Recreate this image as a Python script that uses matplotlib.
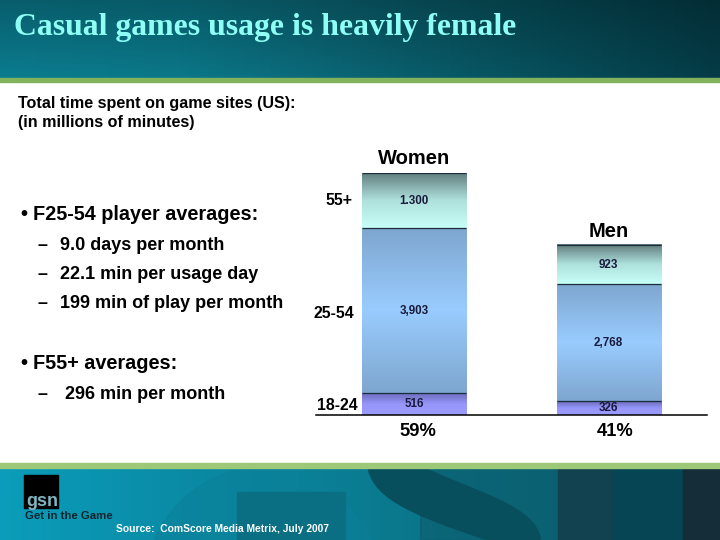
import numpy as np
import matplotlib
matplotlib.use('Agg')
import matplotlib.pyplot as plt
from matplotlib.colors import LinearSegmentedColormap as LSC
from matplotlib.patches import Rectangle, Ellipse, PathPatch
from matplotlib.path import Path

# ---- data
groups = ['Women', 'Men']
shares = ['59%', '41%']
age_labels = ['18-24', '25-54', '55+']
age_18_24 = [516, 326]
age_25_54 = [3903, 2768]
age_55_plus = [1300, 923]
value_text = [['516', '326'], ['3,903', '2,768'], ['1.300', '923']]
bullets = [
    ('\u2022', 'F25-54 player averages:'),
    ('\u2013', '9.0 days per month'),
    ('\u2013', '22.1 min per usage day'),
    ('\u2013', '199 min of play per month'),
    ('\u2022', 'F55+ averages:'),
    ('\u2013', ' 296 min per month'),
]

W, H = 720, 540
plt.rcParams['font.family'] = ['Liberation Sans', 'DejaVu Sans']
fig = plt.figure(figsize=(7.2, 5.4), dpi=100, facecolor='white')

# ---- slide background (pixel coordinates, y down)
bg = fig.add_axes([0, 0, 1, 1], zorder=0)
bg.set_xlim(0, W); bg.set_ylim(H, 0); bg.axis('off')

head = LSC.from_list('h', ['#0b7d90', '#0b7889', '#0b6473', '#07505c', '#053c47'])
grad = np.linspace(0, 1, 256)[None, :]
bg.imshow(grad, cmap=head, extent=(0, W, 78, 0), aspect='auto', zorder=1)
v = np.linspace(0, 1, 80)[:, None]
bg.imshow(np.dstack([np.zeros((80, 1))]*3 + [0.25*(1-v)]), extent=(0, W, 78, 0), aspect='auto', zorder=2)
bg.add_patch(Rectangle((0, 78), W, 3.5, color='#82b35c', zorder=3))

foot = LSC.from_list('f', ['#0b9dbb', '#0a8ba6', '#0a7c92', '#0a6b7d', '#0a5c6c'])
bg.imshow(grad, cmap=foot, extent=(0, W, H, 466), aspect='auto', zorder=1)
# GSN watermark in the footer
ring = Ellipse((262, 590), 236, 245, color='#0b8099', alpha=0.5, zorder=2)
bg.add_patch(ring)
bg.add_patch(Rectangle((237, 492), 108, 48, color='#0a6f83', zorder=2.1))
bg.add_patch(Rectangle((420, 466), 140, 74, color='#0a5a6a', alpha=0.55, zorder=2.05))
s_verts = [(367, 466), (372, 495), (400, 512), (486, 540), (541, 540), (538, 505), (470, 490), (422, 466), (367, 466)]
s_codes = [Path.MOVETO, Path.CURVE4, Path.CURVE4, Path.CURVE4, Path.LINETO,
           Path.CURVE4, Path.CURVE4, Path.CURVE4, Path.CLOSEPOLY]
bg.add_patch(PathPatch(Path(s_verts, s_codes), color='#084f5e', lw=0, zorder=2.2))
bg.add_patch(Rectangle((558, 466), 55, 74, color='#12414f', zorder=2.2))
bg.add_patch(Rectangle((613, 466), 70, 74, color='#064554', zorder=2.2))
bg.add_patch(Rectangle((683, 466), 37, 74, color='#142d39', zorder=2.2))
bg.add_patch(Rectangle((0, 463), W, 4.5, color='#9cc878', zorder=3))
# logo
bg.add_patch(Rectangle((24, 475), 34, 33, color='black', zorder=4))

def T(x, y, s, size, color='black', weight='bold', ha='left', va='baseline', family=None):
    fig.text(x / W, 1 - y / H, s, fontsize=size, color=color, fontweight=weight,
             ha=ha, va=va, family=family or ['Liberation Sans', 'DejaVu Sans'], zorder=10)

T(14, 35, 'Casual games usage is heavily female', 22.9, '#8ffff5', family=['Liberation Serif'])
T(18, 108, 'Total time spent on game sites (US):', 11.6)
T(18, 127, '(in millions of minutes)', 11.6)

ys = [220, 250, 279, 308, 369, 399]
for (mark, text), y in zip(bullets, ys):
    if mark == '\u2022':
        T(20, y, mark, 14.5)
        T(33, y, text, 14.3)
    else:
        T(37, y, mark, 13)
        T(60, y, text, 13)

T(26, 506, 'gsn', 13, '#7fb4c0')
T(25, 519, 'Get in the Game', 8.2, '#10242c')
T(116, 532, 'Source:  ComScore Media Metrix, July 2007', 7.4, 'white')

# ---- chart
ax = fig.add_axes([316 / W, 1 - 415 / H, (707 - 316) / W, (415 - 173) / H], zorder=5)
ax.patch.set_alpha(0)
x = np.arange(len(groups))
bar_w = 0.535
for s in ['top', 'left', 'right']:
    ax.spines[s].set_visible(False)
ax.spines['bottom'].set_color('black'); ax.spines['bottom'].set_linewidth(1.1)
ax.set_xticks([]); ax.set_yticks([])

cmaps = [LSC.from_list('a', ['#9a9aff', '#9696fb', '#6c6cbb']),
         LSC.from_list('b', ['#7ea6cf', '#99ccff', '#7ea6cf']),
         LSC.from_list('c', ['#c8fff8', '#aee0dc', '#5f7c7c'])]
ramp = np.linspace(0, 1, 128)[:, None]
series = [age_18_24, age_25_54, age_55_plus]
bottoms = np.zeros(2)
for vals, cm, txt in zip(series, cmaps, value_text):
    vals = np.array(vals, float)
    bars = ax.bar(x, vals, bar_w, bottom=bottoms, facecolor='none', edgecolor='none', zorder=3)
    for b, t in zip(bars, txt):
        xx, yy, ww, hh = b.get_x(), b.get_y(), b.get_width(), b.get_height()
        ax.imshow(ramp, cmap=cm, origin='lower', extent=(xx, xx + ww, yy, yy + hh),
                  aspect='auto', zorder=2)
        ax.plot([xx, xx + ww], [yy + hh, yy + hh], color='#1c2c3c', lw=0.9, zorder=3,
                solid_capstyle='butt')
        ax.text(xx + ww / 2, yy + hh / 2, t, ha='center', va='center', fontsize=8.4,
                fontweight='bold', color='#1a1a3c', zorder=4)
    bottoms = bottoms + vals
ax.set_xlim(-0.504, 1.506)
ax.set_ylim(0, bottoms.max())

for i, g in enumerate(groups):
    ax.annotate(g, (x[i], bottoms[i]), xytext=(0, 14), textcoords='offset pixels', ha='center',
                va='center', fontsize=14.5, fontweight='bold', annotation_clip=False)
    ax.annotate(shares[i], (x[i], 0), xytext=(4 if i == 0 else 7, -17), textcoords='offset pixels', ha='center',
                va='center', fontsize=13.2, fontweight='bold', annotation_clip=False)

cum = np.cumsum([s[0] for s in series])
for lab, top, val, dx, dy in zip(age_labels, cum, [s[0] for s in series], [-4, -8, -10], [-1, -3, 0]):
    yc = top - val / 2
    ax.annotate(lab, (x[0] - bar_w / 2, yc), xytext=(dx, dy),
                textcoords='offset pixels', ha='right', va='center', fontsize=11.4,
                fontweight='bold', annotation_clip=False)

fig.savefig('out.png', dpi=100)
